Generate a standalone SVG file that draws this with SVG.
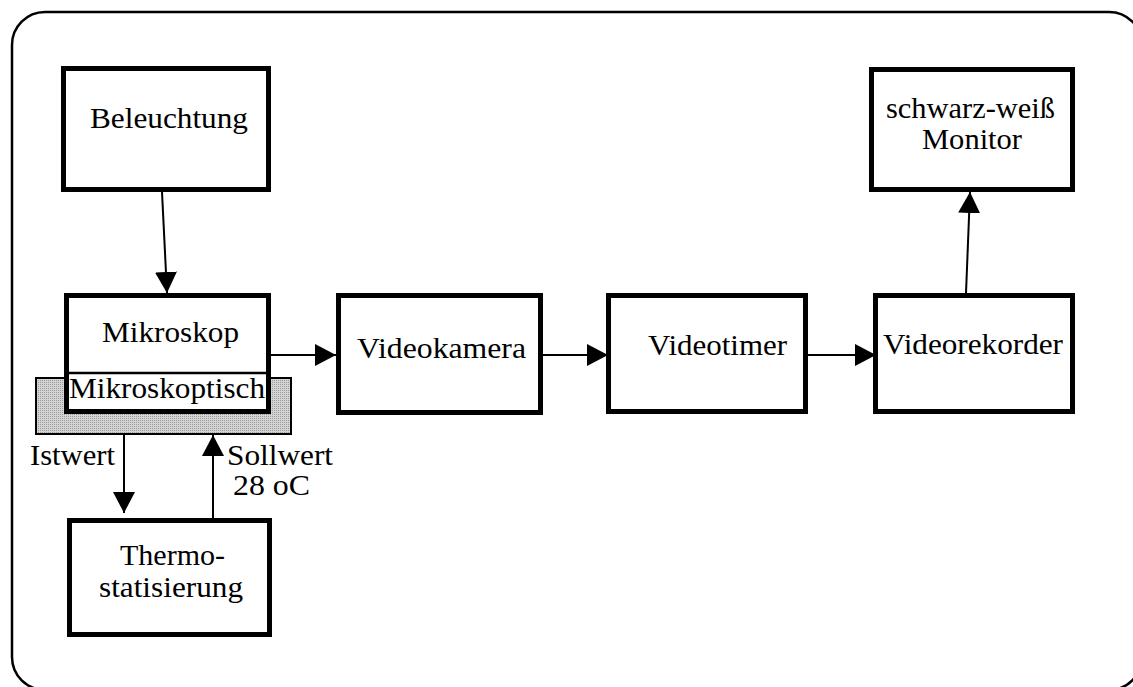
<svg xmlns="http://www.w3.org/2000/svg" width="1133" height="687" viewBox="0 0 1133 687">
<style>
.box{fill:#fff;stroke:#000;stroke-width:5}
.t{font-family:"Liberation Serif","Times New Roman",serif;font-size:30px;fill:#000}
.c{fill:none;stroke:#000;stroke-width:2}
</style>
<defs>
<pattern id="dots" width="2" height="2" patternUnits="userSpaceOnUse">
<rect width="2" height="2" fill="#d4d4d4"/>
<rect width="1" height="1" fill="#9a9a9a"/>
</pattern>
<marker id="ah" markerUnits="userSpaceOnUse" markerWidth="22" markerHeight="22" refX="21" refY="11" orient="auto">
<path d="M0,0 L21,11 L0,22 z" fill="#000"/>
</marker>
</defs>
<rect x="12" y="12" width="1130" height="678" rx="33" ry="33" fill="none" stroke="#000" stroke-width="2.5"/>
<g id="tisch">
<rect x="36" y="378" width="255" height="56" fill="url(#dots)" stroke="#000" stroke-width="2"/>
</g>
<g id="beleuchtung">
<rect class="box" x="63.5" y="68.5" width="205" height="121"/>
<text class="t" x="90" y="128" textLength="158" lengthAdjust="spacingAndGlyphs">Beleuchtung</text>
</g>
<g id="mikroskop">
<rect class="box" x="66.5" y="295.5" width="202" height="116"/>
<line x1="69" y1="373" x2="268" y2="373" stroke="#000" stroke-width="2.5"/>
<text class="t" x="102" y="342" textLength="137" lengthAdjust="spacingAndGlyphs">Mikroskop</text>
<text class="t" x="69" y="398" textLength="196" lengthAdjust="spacingAndGlyphs">Mikroskoptisch</text>
</g>
<g id="videokamera">
<rect class="box" x="338.5" y="295.5" width="202" height="117"/>
<text class="t" x="357" y="358" textLength="169" lengthAdjust="spacingAndGlyphs">Videokamera</text>
</g>
<g id="videotimer">
<rect class="box" x="608.5" y="295.5" width="197" height="116"/>
<text class="t" x="648" y="355" textLength="139" lengthAdjust="spacingAndGlyphs">Videotimer</text>
</g>
<g id="videorekorder">
<rect class="box" x="875.5" y="295.5" width="197" height="116"/>
<text class="t" x="883" y="354" textLength="180" lengthAdjust="spacingAndGlyphs">Videorekorder</text>
</g>
<g id="monitor">
<rect class="box" x="871.5" y="69.5" width="201" height="120"/>
<text class="t" x="886" y="118" textLength="169" lengthAdjust="spacingAndGlyphs">schwarz-weiß</text>
<text class="t" x="922" y="149" textLength="100" lengthAdjust="spacingAndGlyphs">Monitor</text>
</g>
<g id="thermostatisierung">
<rect class="box" x="69.5" y="520.5" width="200" height="114"/>
<text class="t" x="120" y="565" textLength="105" lengthAdjust="spacingAndGlyphs">Thermo-</text>
<text class="t" x="99" y="597" textLength="144" lengthAdjust="spacingAndGlyphs">statisierung</text>
</g>
<g id="connectors">
<line class="c" x1="162" y1="192" x2="167" y2="293" marker-end="url(#ah)"/>
<line class="c" x1="271" y1="355" x2="336" y2="355" marker-end="url(#ah)"/>
<line class="c" x1="543" y1="355" x2="608" y2="355" marker-end="url(#ah)"/>
<line class="c" x1="808" y1="355" x2="876" y2="355" marker-end="url(#ah)"/>
<line class="c" x1="966" y1="293" x2="970" y2="192" marker-end="url(#ah)"/>
<line class="c" x1="124" y1="435" x2="124" y2="513" marker-end="url(#ah)"/>
<line class="c" x1="213" y1="518" x2="213" y2="435" marker-end="url(#ah)"/>
<text class="t" x="30" y="465" textLength="85" lengthAdjust="spacingAndGlyphs">Istwert</text>
<text class="t" x="227" y="465" textLength="106" lengthAdjust="spacingAndGlyphs">Sollwert</text>
<text class="t" x="233" y="495" textLength="77" lengthAdjust="spacingAndGlyphs">28 oC</text>
</g>
</svg>
